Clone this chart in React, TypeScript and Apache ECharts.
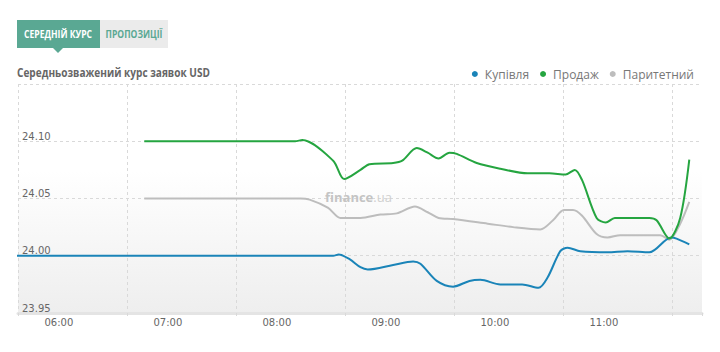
import React, { useEffect, useRef } from 'react';
import * as echarts from 'echarts';

const tabLabels = ['СЕРЕДНІЙ КУРС', 'ПРОПОЗИЦІЇ'];
const chartTitle = 'Середньозважений курс заявок USD';
const seriesNames = ['Купівля', 'Продаж', 'Паритетний'];
const watermark = ['finance', '.ua'];
const hourTicks = ['06:00', '07:00', '08:00', '09:00', '10:00', '11:00'];

const buyTimes = ['05:30', '08:31', '08:34', '08:40', '08:46', '08:50', '09:04', '09:15', '09:19', '09:28', '09:37', '09:46', '09:52', '10:03', '10:15', '10:24', '10:29', '10:36', '10:40', '10:47', '11:02', '11:13', '11:25', '11:37', '11:40', '11:47'];
const buyValues = [24.0, 24.0, 24.001, 23.997, 23.99, 23.988, 23.992, 23.995, 23.993, 23.978, 23.973, 23.978, 23.979, 23.975, 23.975, 23.972, 23.981, 24.004, 24.007, 24.004, 24.003, 24.004, 24.003, 24.016, 24.015, 24.01];

const sellTimes = ['06:47', '08:10', '08:14', '08:31', '08:37', '08:46', '08:51', '09:04', '09:09', '09:17', '09:23', '09:29', '09:35', '09:39', '09:50', '10:03', '10:18', '10:30', '10:39', '10:44', '10:48', '10:56', '11:01', '11:06', '11:18', '11:25', '11:29', '11:36', '11:42', '11:47'];
const sellValues = [24.1, 24.1, 24.101, 24.083, 24.067, 24.075, 24.08, 24.081, 24.083, 24.094, 24.09, 24.085, 24.09, 24.089, 24.081, 24.076, 24.072, 24.072, 24.071, 24.075, 24.066, 24.033, 24.029, 24.033, 24.033, 24.033, 24.031, 24.015, 24.033, 24.084];

const parityTimes = ['06:47', '08:13', '08:18', '08:28', '08:35', '08:39', '08:46', '08:57', '09:06', '09:16', '09:23', '09:29', '09:37', '09:56', '10:10', '10:25', '10:32', '10:38', '10:43', '10:48', '10:56', '11:02', '11:09', '11:25', '11:31', '11:36', '11:42', '11:47'];
const parityValues = [24.05, 24.05, 24.049, 24.042, 24.033, 24.033, 24.033, 24.036, 24.037, 24.043, 24.038, 24.033, 24.032, 24.028, 24.025, 24.023, 24.031, 24.04, 24.04, 24.035, 24.019, 24.016, 24.018, 24.018, 24.018, 24.014, 24.028, 24.047];

const colors = ['#1a84b8', '#25a540', '#bdbdbd'];

const toMin = (s: string) => {
  const [h, m] = s.split(':').map(Number);
  return h * 60 + m;
};
const pairs = (t: string[], v: number[]) => t.map((s, i) => [toMin(s), v[i]]);
const pad = (n: number) => (n < 10 ? '0' + n : '' + n);

export default function App() {
  const ref = useRef<HTMLDivElement>(null);
  useEffect(() => {
    document.body.style.margin = '0';
    const chart = echarts.init(ref.current!, null, { renderer: 'svg' });
    const dashColor = '#d9d9d9';
    chart.setOption({
      animation: false,
      color: colors,
      grid: {
        left: 18,
        right: 18,
        top: 84,
        bottom: 39,
        show: true,
        borderWidth: 0,
        backgroundColor: {
          type: 'linear', x: 0, y: 0, x2: 0, y2: 1,
          colorStops: [
            { offset: 0, color: '#ffffff' },
            { offset: 0.38, color: '#ffffff' },
            { offset: 1, color: '#eeeeee' },
          ],
        },
      },
      legend: {
        right: 21,
        top: 63,
        icon: 'circle',
        itemWidth: 6,
        itemHeight: 6,
        itemGap: 11,
        textStyle: { color: '#777', fontSize: 12, fontFamily: 'Open Sans', padding: [0, 0, 0, 2] },
        data: seriesNames,
      },
      xAxis: [
        {
          type: 'value',
          min: 337.5,
          max: 714,
          position: 'bottom',
          axisLine: { show: true, lineStyle: { color: '#e4e4e4', width: 3 } },
          axisTick: { show: false },
          splitLine: { show: false },
          axisLabel: {
            color: '#666',
            fontSize: 10,
            fontFamily: 'DejaVu Sans',
            margin: 4,
            customValues: hourTicks.map(toMin),
            formatter: (v: number) => pad(Math.floor(v / 60)) + ':' + pad(Math.round(v % 60)),
          },
        },
        {
          type: 'value',
          min: 0,
          max: 376.5,
          interval: 60,
          position: 'bottom',
          axisLine: { show: false },
          axisLabel: { show: false },
          axisTick: { show: true, length: 6, lineStyle: { color: dashColor, type: [3, 3] } },
          splitLine: { show: true, showMaxLine: false, lineStyle: { color: dashColor, type: [3, 3] } },
        },
      ],
      yAxis: {
        type: 'value',
        min: 23.95,
        max: 24.15,
        interval: 0.05,
        axisLine: { show: false },
        axisTick: { show: false },
        axisLabel: {
          inside: true,
          showMaxLabel: false,
          margin: 4,
          verticalAlign: 'bottom',
          color: '#666',
          fontSize: 10,
          fontFamily: 'DejaVu Sans',
          formatter: (v: number) => v.toFixed(2),
        },
        splitLine: { show: true, lineStyle: { color: dashColor, type: [3, 3] } },
      },
      graphic: [
        { type: 'rect', shape: { x: 17, y: 20, width: 83, height: 28 }, style: { fill: '#5aa893' } },
        { type: 'polygon', shape: { points: [[53, 48], [63, 48], [58, 53]] }, style: { fill: '#5aa893' } },
        { type: 'rect', shape: { x: 100, y: 20, width: 68, height: 28 }, style: { fill: '#ebebeb' } },
        {
          type: 'text', x: 58, y: 34, scaleX: 0.78,
          style: { text: tabLabels[0], fill: '#ffffff', font: 'bold 11px "Open Sans"', align: 'center', verticalAlign: 'middle' },
        },
        {
          type: 'text', x: 134, y: 34, scaleX: 0.78,
          style: { text: tabLabels[1], fill: '#5aa893', font: 'bold 11px "Open Sans"', align: 'center', verticalAlign: 'middle' },
        },
        {
          type: 'text', x: 17, y: 72, scaleX: 0.84,
          style: { text: chartTitle, fill: '#666', font: 'bold 12px "Open Sans"', align: 'left', verticalAlign: 'middle' },
        },
        {
          type: 'text', x: 325, y: 197, z: 1,
          style: {
            text: '{a|' + watermark[0] + '}{b|' + watermark[1] + '}',
            verticalAlign: 'middle',
            rich: {
              a: { fill: '#c4c4c4', fontWeight: 'bold', fontSize: 13, fontFamily: 'Open Sans' },
              b: { fill: '#d0d0d0', fontSize: 13, fontFamily: 'Open Sans' },
            },
          },
        },
      ],
      series: [
        { name: seriesNames[0], type: 'line', xAxisIndex: 0, smooth: 0.3, showSymbol: false, lineStyle: { width: 2 }, z: 3, data: pairs(buyTimes, buyValues) },
        { name: seriesNames[1], type: 'line', xAxisIndex: 0, smooth: 0.3, showSymbol: false, lineStyle: { width: 2 }, z: 3, data: pairs(sellTimes, sellValues) },
        { name: seriesNames[2], type: 'line', xAxisIndex: 0, smooth: 0.3, showSymbol: false, lineStyle: { width: 2 }, z: 2, data: pairs(parityTimes, parityValues) },
      ],
    });
    return () => chart.dispose();
  }, []);
  return <div ref={ref} style={{ width: 720, height: 352 }} />;
}
